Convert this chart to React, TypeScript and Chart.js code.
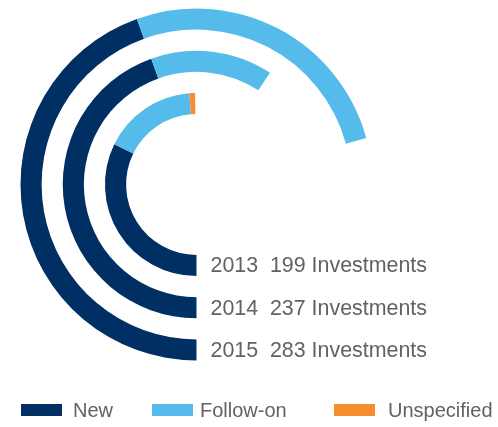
import React, { useEffect, useRef } from "react";
import { Chart, registerables } from "chart.js";

Chart.register(...registerables);

// Data
const years = ["2013", "2014", "2015"];
const investments = [199, 237, 283];
const seriesNames = ["New", "Follow-on", "Unspecified"];
const newValues = [129, 178, 178];
const followOnValues = [66, 59, 105];
const unspecifiedValues = [4, 0, 0];
const scaleMax = 400;

const COLORS = ["#002f63", "#55bbea", "#f68d2e"];
const TEXT = "#626262";
const FONT = "'Liberation Sans', Arial, Helvetica, sans-serif";

export default function App() {
  const ref = useRef<HTMLCanvasElement | null>(null);

  useEffect(() => {
    if (!ref.current) return;
    const ringDatasets: any[] = [];
    // Outermost first (Chart.js draws the first dataset outside)
    const order = [2, 1, 0];
    order.forEach((i, k) => {
      const total = newValues[i] + followOnValues[i] + unspecifiedValues[i];
      ringDatasets.push({
        label: years[i],
        yearIndex: i,
        data: [newValues[i], followOnValues[i], unspecifiedValues[i], scaleMax - total],
        backgroundColor: [...COLORS, "rgba(0,0,0,0)"],
        borderWidth: 0,
      });
      if (k < order.length - 1) {
        ringDatasets.push({
          label: "spacer",
          data: [scaleMax],
          backgroundColor: ["rgba(0,0,0,0)"],
          borderWidth: 0,
        });
      }
    });

    const labelPlugin = {
      id: "ringLabels",
      afterDraw(chart: any) {
        const ctx = chart.ctx;
        ctx.save();
        ctx.fillStyle = TEXT;
        ctx.font = `21.4px ${FONT}`;
        ctx.textBaseline = "middle";
        ctx.textAlign = "left";
        chart.data.datasets.forEach((ds: any, di: number) => {
          if (ds.yearIndex === undefined) return;
          const arc = chart.getDatasetMeta(di).data[0];
          const p = arc.getProps(["x", "y", "innerRadius", "outerRadius"], true);
          const ty = p.y + (p.innerRadius + p.outerRadius) / 2;
          ctx.fillText(
            `${years[ds.yearIndex]}  ${investments[ds.yearIndex]} Investments`,
            p.x + 14,
            ty + 1
          );
        });
        // legend
        const boxX = [21, 152, 334];
        const textX = [73, 200, 388];
        const ly = 410;
        ctx.font = `20px ${FONT}`;
        seriesNames.forEach((name, i) => {
          ctx.fillStyle = COLORS[i];
          ctx.fillRect(boxX[i], ly - 6, 41, 12);
          ctx.fillStyle = TEXT;
          ctx.fillText(name, textX[i], ly + 1);
        });
        ctx.restore();
      },
    };

    const chart = new Chart(ref.current, {
      type: "doughnut",
      data: {
        labels: [...seriesNames, "rest"],
        datasets: ringDatasets,
      },
      options: {
        animation: false,
        responsive: false,
        rotation: 180,
        circumference: 360,
        cutout: "40%",
        events: [],
        layout: {
          padding: { left: 20.5, top: 8.5, right: 125.5, bottom: 66.5 },
        },
        plugins: {
          legend: { display: false },
          tooltip: { enabled: false },
        },
      } as any,
      plugins: [labelPlugin],
    });
    return () => chart.destroy();
  }, []);

  return (
    <div style={{ position: "fixed", left: 0, top: 0, width: 498, height: 427, background: "#fff" }}>
      <canvas ref={ref} width={498} height={427} style={{ width: 498, height: 427, display: "block" }} />
    </div>
  );
}
